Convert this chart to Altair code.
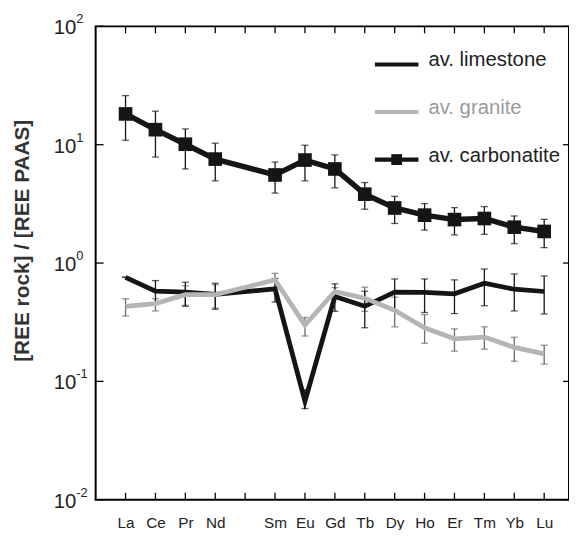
import altair as alt
import pandas as pd

# ---------------- data ----------------
elements = ["La", "Ce", "Pr", "Nd", "Sm", "Eu", "Gd", "Tb", "Dy", "Ho", "Er", "Tm", "Yb", "Lu"]
positions = [1, 2, 3, 4, 6, 7, 8, 9, 10, 11, 12, 13, 14, 15]
tick_positions = list(range(1, 16))

carbonatite = [18.2, 13.4, 10.1, 7.56, 5.55, 7.42, 6.24, 3.82, 2.92, 2.54, 2.33, 2.38, 2.01, 1.85]
carb_lo = [10.9, 7.86, 6.24, 4.95, 3.9, 4.95, 4.32, 2.85, 2.16, 1.90, 1.73, 1.75, 1.46, 1.35]
carb_hi = [26.0, 19.2, 13.6, 10.3, 7.14, 9.9, 8.2, 4.79, 3.66, 3.18, 2.94, 3.0, 2.5, 2.34]

limestone = [0.758, 0.578, 0.568, 0.543, 0.606, 0.068, 0.522, 0.431, 0.568, 0.564, 0.550, 0.675, 0.601, 0.575]
lime_lo = [0.758, 0.448, 0.431, 0.407, 0.468, 0.059, 0.391, 0.284, 0.40, 0.382, 0.374, 0.436, 0.394, 0.371]
lime_hi = [0.758, 0.711, 0.689, 0.675, 0.74, 0.085, 0.667, 0.578, 0.734, 0.734, 0.721, 0.891, 0.809, 0.778]

granite = [0.431, 0.454, 0.540, 0.540, 0.721, 0.299, 0.575, 0.505, 0.399, 0.284, 0.229, 0.237, 0.194, 0.171]
gran_lo = [0.357, 0.394, 0.44, 0.417, 0.62, 0.242, 0.53, 0.391, 0.289, 0.210, 0.180, 0.187, 0.148, 0.140]
gran_hi = [0.50, 0.50, 0.642, 0.655, 0.819, 0.347, 0.62, 0.625, 0.515, 0.367, 0.278, 0.289, 0.236, 0.202]

y_exponents = ["-2", "-1", "0", "1", "2"]
y_tick_values = [0.01, 0.1, 1, 10, 100]

series_names = ["av. limestone", "av. granite", "av. carbonatite"]
series_colors = ["#151515", "#b5b5b5", "#151515"]
legend_text_colors = ["#222222", "#9a9a9a", "#222222"]

FONT = "Liberation Sans"
W, H = 478, 478

df = pd.DataFrame({
    "pos": positions, "element": elements,
    "carb": carbonatite, "carb_lo": carb_lo, "carb_hi": carb_hi,
    "lime": limestone, "lime_lo": lime_lo, "lime_hi": lime_hi,
    "gran": granite, "gran_lo": gran_lo, "gran_hi": gran_hi,
})
df_xt = pd.DataFrame({"pos": tick_positions})
df_yt = pd.DataFrame({"v": y_tick_values, "base": ["10"] * 5, "exp": y_exponents})
df_leg = pd.DataFrame({"name": series_names, "row": [0, 1, 2]})

label_map = {p: e for p, e in zip(positions, elements)}
label_expr = "{" + ",".join(f"'{p}':'{e}'" for p, e in label_map.items()) + "}[datum.value] || ''"

xscale = alt.Scale(domain=[0, 15.83], nice=False, zero=False)
yscale = alt.Scale(type="log", domain=[0.01, 100], nice=False)

xaxis = alt.Axis(values=tick_positions, labelExpr=label_expr, ticks=False, domain=False,
                 grid=False, title=None, labelFont=FONT, labelFontSize=15.5, labelColor="#222",
                 labelPadding=16)
yaxis = alt.Axis(values=y_tick_values, labels=False, ticks=False, domain=False, grid=False,
                 title="[REE rock] / [REE PAAS]", titleFont=FONT, titleFontSize=21,
                 titleFontWeight="bold", titleColor="#333", titleX=-74, titleY=216,
                 titleAlign="center", titleBaseline="middle", titleAngle=-90)

X = alt.X("pos:Q", scale=xscale, axis=xaxis)


def Y(field):
    return alt.Y(f"{field}:Q", scale=yscale, axis=yaxis)


base = alt.Chart(df)


def errbars(lo, hi, color):
    r = base.mark_rule(color=color, strokeWidth=1.3).encode(x=X, y=Y(lo), y2=f"{hi}:Q")
    t1 = base.mark_tick(color=color, orient="horizontal", size=7, thickness=1.3).encode(x=X, y=Y(lo))
    t2 = base.mark_tick(color=color, orient="horizontal", size=7, thickness=1.3).encode(x=X, y=Y(hi))
    return [r, t1, t2]


layers = []
layers += errbars("gran_lo", "gran_hi", "#6a6a6a")
layers += errbars("lime_lo", "lime_hi", "#151515")
layers += errbars("carb_lo", "carb_hi", "#151515")
layers.append(base.mark_line(color=series_colors[0], strokeWidth=4.8).encode(x=X, y=Y("lime")))
layers.append(base.mark_line(color=series_colors[1], strokeWidth=4.8).encode(x=X, y=Y("gran")))
layers.append(base.mark_line(color=series_colors[2], strokeWidth=5.5).encode(x=X, y=Y("carb")))
layers.append(base.mark_point(shape="square", filled=True, size=190, color="#151515", opacity=1)
              .encode(x=X, y=Y("carb")))

# inward ticks
xt = alt.Chart(df_xt)
layers.append(xt.mark_rule(color="black", strokeWidth=1.3).encode(x=X, y=alt.value(H - 7), y2=alt.value(H)))
layers.append(xt.mark_rule(color="black", strokeWidth=1.3).encode(x=X, y=alt.value(0), y2=alt.value(7)))
yt = alt.Chart(df_yt)
layers.append(yt.mark_rule(color="black", strokeWidth=1.3).encode(y=Y("v"), x=alt.value(0), x2=alt.value(8)))
layers.append(yt.mark_rule(color="black", strokeWidth=1.3).encode(y=Y("v"), x=alt.value(W - 6), x2=alt.value(W)))

# y tick labels 10^n
layers.append(yt.mark_text(align="right", baseline="middle", font=FONT, fontSize=20.5, color="#222", dy=2)
              .encode(y=Y("v"), x=alt.value(-19.5), text="base:N"))
layers.append(yt.mark_text(align="left", baseline="middle", font=FONT, fontSize=13, color="#222", dy=-7)
              .encode(y=Y("v"), x=alt.value(-19.5), text="exp:N"))

# legend
LX0, LX1, LY0, LDY = 282, 326, 38.5, 48
leg = alt.Chart(df_leg).transform_calculate(
    ly=f"{LY0} + datum.row * {LDY}", lx0=f"{LX0}", lx1=f"{LX1}",
    lxm=f"{(LX0 + LX1) / 2}", ltx=f"{LX1 + 10}")
color_scale = alt.Scale(domain=series_names, range=series_colors)
text_scale = alt.Scale(domain=series_names, range=legend_text_colors)
layers.append(leg.mark_rule(strokeWidth=4.2).encode(
    x=alt.X("lx0:Q", scale=None), x2="lx1:Q", y=alt.Y("ly:Q", scale=None),
    color=alt.Color("name:N", scale=color_scale, legend=None)))
layers.append(leg.transform_filter(alt.datum.row == 2).mark_point(shape="square", filled=True, size=120,
                                                                  color="#151515", opacity=1).encode(
    x=alt.X("lxm:Q", scale=None), y=alt.Y("ly:Q", scale=None)))
layers.append(leg.mark_text(align="left", baseline="middle", font=FONT, fontSize=20.5, dy=-4).encode(
    x=alt.X("ltx:Q", scale=None), y=alt.Y("ly:Q", scale=None), text="name:N",
    color=alt.Color("name:N", scale=text_scale, legend=None)))

chart = alt.layer(*layers).resolve_scale(color="independent").properties(
    width=W, height=H,
    autosize=alt.AutoSizeParams(type="none"),
    padding={"left": 88.5, "top": 16, "right": 0, "bottom": 28},
    background="white",
).configure_view(stroke="black", strokeWidth=2)

chart.save("out.html", embed_options={"renderer": "svg", "actions": False})
